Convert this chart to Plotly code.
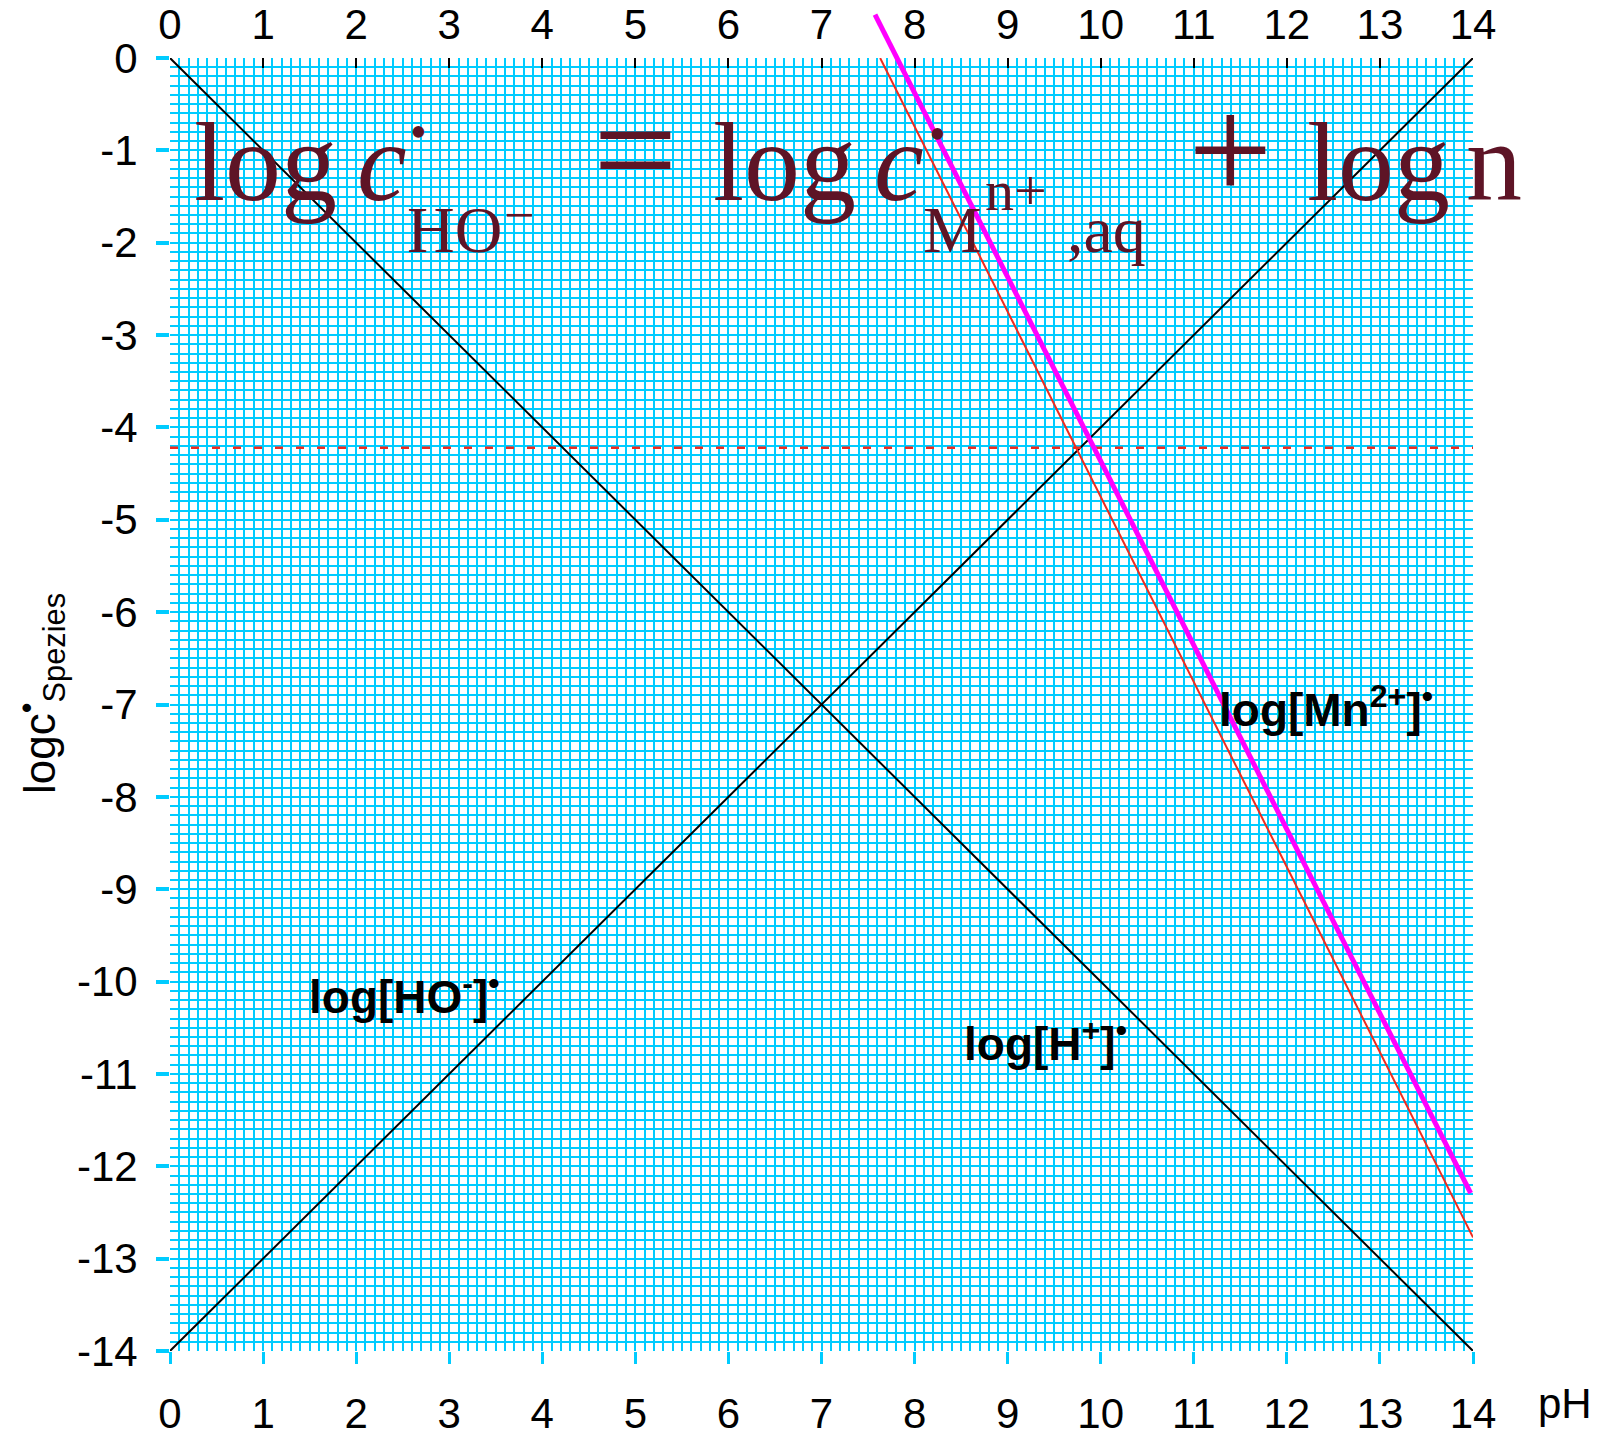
import plotly.graph_objects as go

# ---------------- data ----------------
ph_ends = [0, 14]
log_h = [0, -14]            # log[H+] = -pH
log_oh = [-14, 0]           # log[HO-] = pH - 14
ph_mn = [7.63, 14.0]        # log[Mn2+] (thin red)
log_mn = [0.0, -12.77]
ph_mn_n = [7.575, 13.975]   # log c(HO-) = log c(M) + log n (magenta)
log_mn_n = [0.47, -12.29]
ph_level = [0, 14]          # dashed red level
log_level = [-4.22, -4.22]
x_tick_vals = list(range(0, 15))
x_tick_text = [str(v) for v in x_tick_vals]
y_tick_vals = list(range(0, -15, -1))
y_tick_text = [str(v) for v in y_tick_vals]

# ---------------- layout geometry ----------------
W, H = 1605, 1440
OFF = 8                      # page body margin
L = 170 - OFF
R = W - (1473 - OFF)
T = 10 - OFF
B = H - (1351 - OFF)
PLOT_TOP = 58 - OFF
inner_h = H - T - B
inner_w = W - L - R
y_dom_top = (H - B - PLOT_TOP) / inner_h
y2_top = -14 + 14 / y_dom_top

CYAN = '#00CCFF'
RED = '#F02A1E'
MAROON = '#5E1426'
SANS = 'Liberation Sans, Arial, sans-serif'
SERIF = 'Liberation Serif, Times New Roman, serif'


def px_x(px):
    return (px - OFF - L) / inner_w


def px_y(py):
    return (H - B - (py - OFF)) / inner_h


fig = go.Figure()

fig.add_trace(go.Scatter(x=ph_ends, y=log_h, mode='lines', xaxis='x2', yaxis='y',
                         line=dict(color='black', width=2), hoverinfo='skip', showlegend=False))
fig.add_trace(go.Scatter(x=ph_ends, y=log_oh, mode='lines',
                         line=dict(color='black', width=2), hoverinfo='skip', showlegend=False))
fig.add_trace(go.Scatter(x=ph_mn, y=log_mn, mode='lines',
                         line=dict(color=RED, width=2), hoverinfo='skip', showlegend=False))
fig.add_trace(go.Scatter(x=ph_level, y=log_level, mode='lines',
                         line=dict(color=RED, width=2.5, dash='8px,13px'),
                         hoverinfo='skip', showlegend=False))
fig.add_trace(go.Scatter(x=ph_mn_n, y=log_mn_n, mode='lines', xaxis='x3', yaxis='y2',
                         line=dict(color='#FF00FF', width=5), hoverinfo='skip', showlegend=False))

tickfont = dict(family=SANS, size=42, color='black')
grid_minor = dict(tickmode='linear', tick0=0, dtick=0.1, showgrid=True,
                  gridcolor=CYAN, gridwidth=2, ticks='')

fig.update_layout(
    template='none',
    width=W, height=H,
    margin=dict(l=L, r=R, t=T, b=B, pad=0, autoexpand=False),
    paper_bgcolor='white', plot_bgcolor='rgba(0,0,0,0)',
    showlegend=False,
    xaxis=dict(domain=[0, 1], range=[0, 14], anchor='y', side='bottom', automargin=False,
               tickmode='array', tickvals=x_tick_vals, ticktext=x_tick_text,
               ticks='outside', ticklen=12, tickwidth=3, tickcolor=CYAN,
               tickfont=tickfont, ticklabelstandoff=14,
               showgrid=True, gridcolor=CYAN, gridwidth=2, minor=grid_minor,
               zeroline=False, showline=False),
    xaxis2=dict(range=[0, 14], overlaying='x', anchor='y', side='top', automargin=False,
                tickmode='array', tickvals=x_tick_vals, ticktext=x_tick_text,
                ticks='inside', ticklen=10, tickwidth=2, tickcolor='black',
                tickfont=tickfont, ticklabelstandoff=10,
                showgrid=False, zeroline=False, showline=False),
    xaxis3=dict(domain=[0, 1], range=[0, 14], anchor='y2', visible=False, automargin=False,
                showgrid=False, zeroline=False),
    yaxis=dict(domain=[0, y_dom_top], range=[-14, 0], anchor='x', automargin=False,
               tickmode='array', tickvals=y_tick_vals, ticktext=y_tick_text,
               ticks='outside', ticklen=13, tickwidth=4, tickcolor=CYAN,
               tickfont=tickfont, ticklabelstandoff=10,
               showgrid=True, gridcolor=CYAN, gridwidth=2, minor=grid_minor,
               zeroline=False, showline=False),
    yaxis2=dict(domain=[0, 1], range=[-14, y2_top], anchor='x3', visible=False, automargin=False,
                showgrid=False, zeroline=False),
)

ann = []


def add(text, x, y, size, xanchor='left', yanchor='bottom', color=MAROON, family=SERIF, angle=0):
    ann.append(dict(text=text, x=px_x(x), y=px_y(y), xref='paper', yref='paper',
                    xanchor=xanchor, yanchor=yanchor, showarrow=False, textangle=angle,
                    font=dict(family=family, size=size, color=color)))


# big formula: log c•_{HO-} = log c•_{M^{n+},aq} + log n
MAIN = 112
base = 202
add('log', 192, base + 0.216 * MAIN, MAIN)
add('<i>c</i>', 355, base + 0.216 * MAIN, MAIN)
add('•', 418, 132, 48, xanchor='center', yanchor='middle')
add('HO', 405, 254 + 0.216 * 66, 66)
add('−', 519, 215, 54, xanchor='center', yanchor='middle')
add('=', 635, base + 0.216 * 150, 150, xanchor='center')
add('log', 711, base + 0.216 * MAIN, MAIN)
add('<i>c</i>', 872, base + 0.216 * MAIN, MAIN)
add('•', 937, 133, 48, xanchor='center', yanchor='middle')
add('M', 921, 254 + 0.216 * 66, 66)
add('n+', 983, 212 + 0.216 * 58, 58)
add(',aq', 1065, 254 + 0.216 * 66, 66)
add('+', 1230, base + 0.216 * 150, 150, xanchor='center')
add('log', 1305, base + 0.216 * MAIN, MAIN)
add('n', 1464, base + 0.216 * MAIN, MAIN)

# curve labels
LAB = 46
add('<b>log[Mn<sup>2+</sup>]<sup>•</sup></b>', 1217, 728 + 0.212 * LAB, LAB, color='black', family=SANS)
add('<b>log[HO<sup>-</sup>]<sup>•</sup></b>', 307, 1015 + 0.212 * LAB, LAB, color='black', family=SANS)
add('<b>log[H<sup>+</sup>]<sup>•</sup></b>', 962, 1062 + 0.212 * LAB, LAB, color='black', family=SANS)

# axis titles
add('pH', 1565, 1403, 42, xanchor='center', yanchor='middle', color='black', family=SANS)
add('logc<sup>•</sup><sub>Spezies</sub>', 41, 694, 44, xanchor='center', yanchor='middle',
    color='black', family=SANS, angle=-90)

fig.update_layout(annotations=ann)

fig.write_html('out.html')
